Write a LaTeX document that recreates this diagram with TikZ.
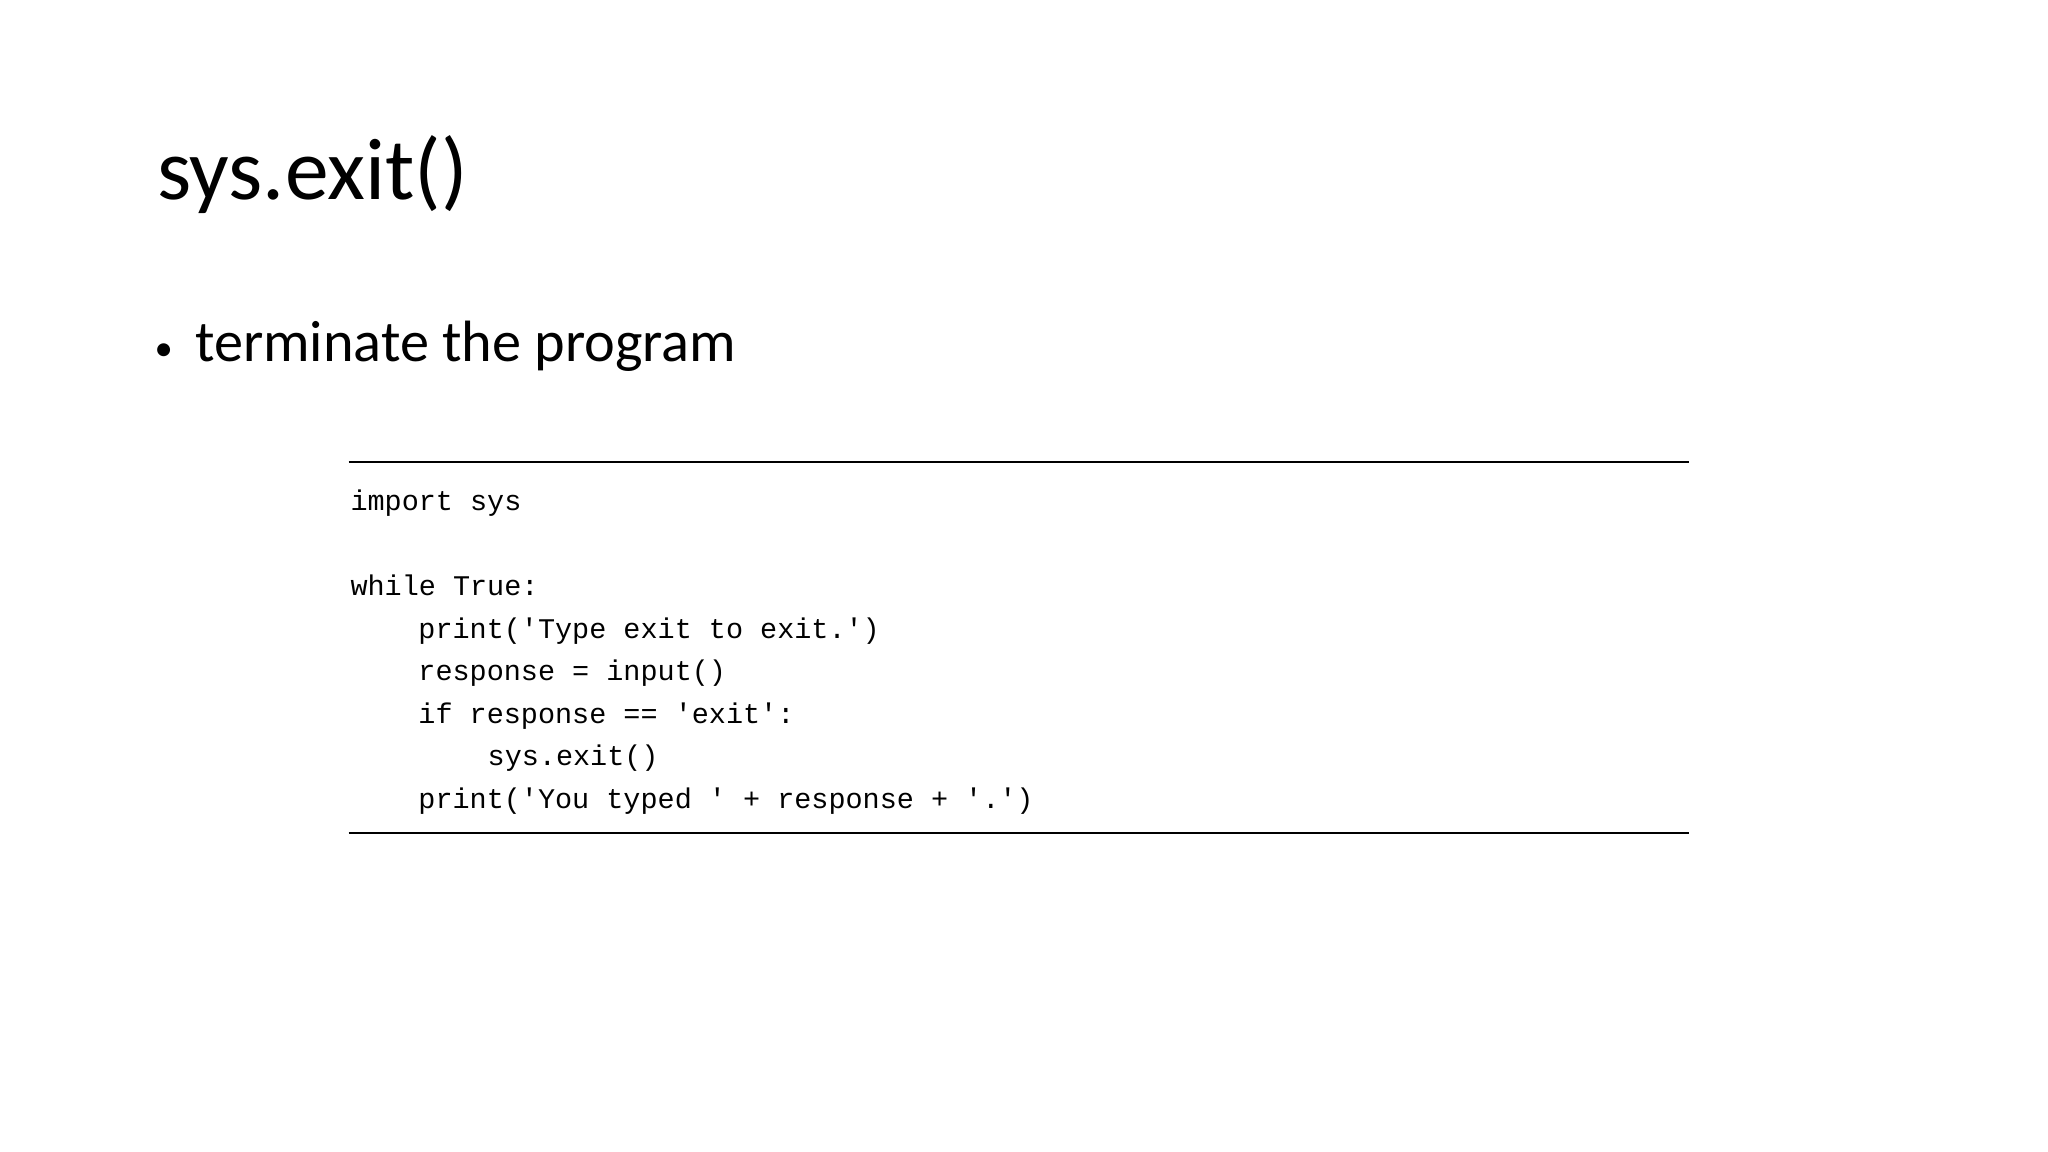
\documentclass[tikz,border=0pt]{standalone}
\usepackage{fontspec}
\setmainfont{Carlito}
\setmonofont{Liberation Mono}
\begin{document}
\begin{tikzpicture}[x=0.5pt,y=-0.5pt,
  code/.style={anchor=base west,inner sep=0,font=\ttfamily\fontsize{10.9}{13}\selectfont},
  rule/.style={line width=0.7pt}]
\useasboundingbox[fill=white] (0,0) rectangle (1568,882);
\node[anchor=base west,inner sep=0,font=\fontsize{33.5}{38}\selectfont] (title) at (120,153) {sys.exit()};
\node[anchor=base west,inner sep=0,font=\fontsize{14}{16}\selectfont] (dot) at (118,276) {•};
\node[anchor=base west,inner sep=0,font=\fontsize{22.3}{26}\selectfont] (bullet) at (149,277) {terminate the program};
\coordinate (t1) at (267,354); \coordinate (t2) at (1293,354);
\coordinate (b1) at (267,638); \coordinate (b2) at (1293,638);
\draw[rule] (t1) -- (t2);
\draw[rule] (b1) -- (b2);
\node[code] (c1) at (268,391) {import sys};
\node[code] (c2) at (268,456) {while True:};
\node[code] (c3) at (320,489) {print('Type exit to exit.')};
\node[code] (c4) at (320,521) {response = input()};
\node[code] (c5) at (320,554) {if response == 'exit':};
\node[code] (c6) at (373,586) {sys.exit()};
\node[code] (c7) at (320,619) {print('You typed ' + response + '.')};
\end{tikzpicture}
\end{document}
